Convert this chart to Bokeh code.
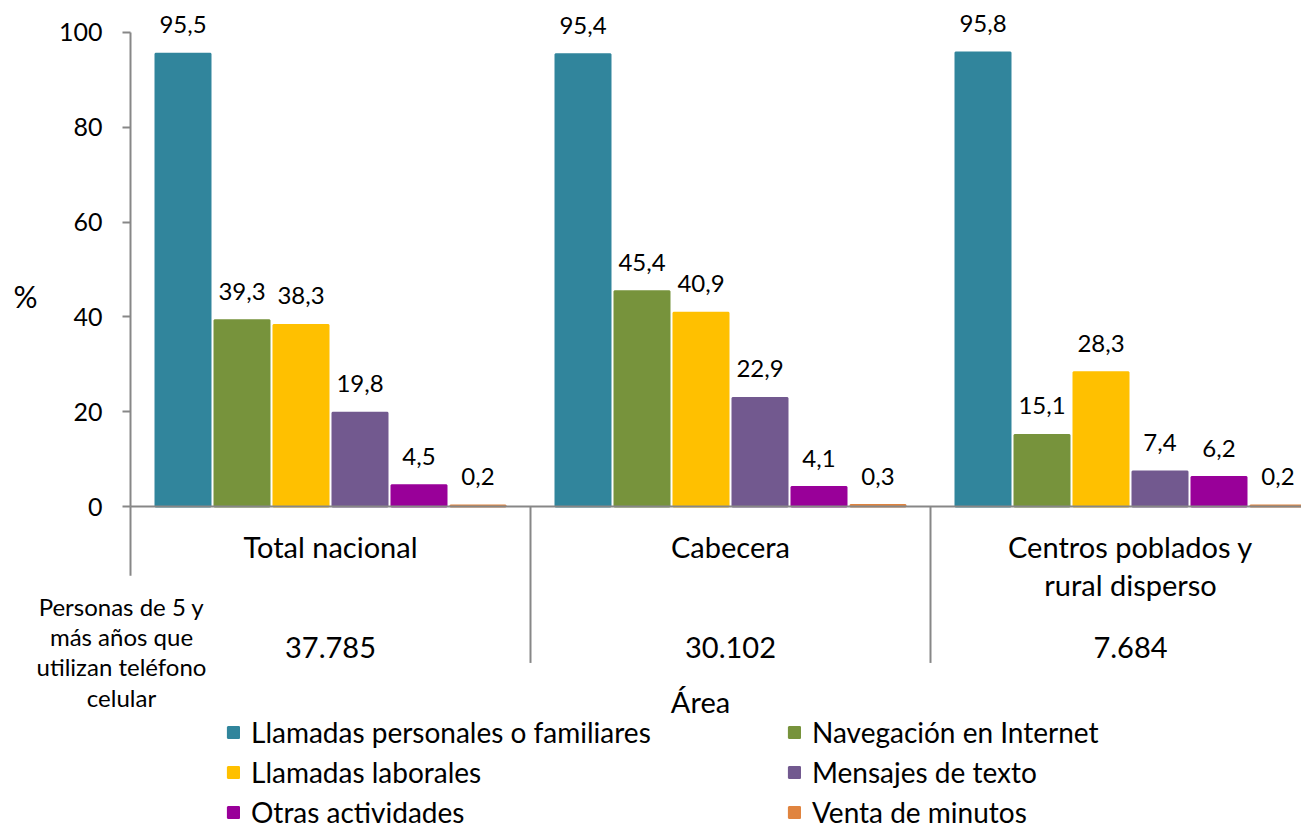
from bokeh.plotting import figure
from bokeh.models import (Range1d, LinearAxis, FixedTicker, ColumnDataSource,
                          Legend, LegendItem)
from bokeh.transform import dodge
from bokeh.core.properties import value
from bokeh.embed import file_html
from bokeh.resources import INLINE

# ---------------- data ----------------
areas = ["Total nacional", "Cabecera", "Centros poblados y\nrural disperso"]
personas = ["37.785", "30.102", "7.684"]
personas_label = "Personas de 5 y\nmás años que\nutilizan teléfono\ncelular"
x_title = "Área"
y_title = "%"
series = ["Llamadas personales o familiares", "Navegación en Internet",
          "Llamadas laborales", "Mensajes de texto",
          "Otras actividades", "Venta de minutos"]
llamadas_personales = [95.5, 95.4, 95.8]
navegacion_internet = [39.3, 45.4, 15.1]
llamadas_laborales = [38.3, 40.9, 28.3]
mensajes_texto = [19.8, 22.9, 7.4]
otras_actividades = [4.5, 4.1, 6.2]
venta_minutos = [0.2, 0.3, 0.2]
y_ticks = [0, 20, 40, 60, 80, 100]
colors = ["#31859C", "#77933C", "#FFC000", "#72598F", "#990099", "#E0843F"]

FONT = "Lato"
AX = "#878787"

values = [llamadas_personales, navegacion_internet, llamadas_laborales,
          mensajes_texto, otras_actividades, venta_minutos]
group_x = [i + 0.5 for i in range(len(areas))]

data = {"x": group_x, "personas": personas}
for k, vals in enumerate(values):
    data[f"v{k}"] = vals
    data[f"t{k}"] = [f"{v:.1f}".replace(".", ",") for v in vals]
src = ColumnDataSource(data)

p = figure(width=1301, height=830,
           x_range=Range1d(-0.325, 2.9275), y_range=Range1d(-68.35, 106.75),
           output_backend="svg", toolbar_location=None,
           x_axis_type=None, y_axis_type=None, min_border=0,
           outline_line_color=None, background_fill_color="white")
p.grid.visible = False

# axes
yaxis = LinearAxis(fixed_location=0, bounds=(0, 100), ticker=FixedTicker(ticks=y_ticks),
                   axis_line_color=AX, axis_line_width=2,
                   major_tick_line_color=AX, major_tick_line_width=2,
                   major_tick_out=8, major_tick_in=0, minor_tick_line_color=None,
                   major_label_text_font=FONT, major_label_text_font_size="25px",
                   major_label_text_color="black", major_label_standoff=20)
p.add_layout(yaxis, "left")

xaxis = LinearAxis(fixed_location=0, bounds=(0, 2.9275), ticker=FixedTicker(ticks=group_x),
                   major_label_overrides={gx: a for gx, a in zip(group_x, areas)},
                   axis_line_color=AX, axis_line_width=2,
                   major_tick_line_color=None, major_tick_out=0, major_tick_in=0,
                   minor_tick_line_color=None,
                   major_label_text_font=FONT, major_label_text_font_size="29px",
                   major_label_text_color="black", major_label_standoff=22,
                   major_label_text_line_height=1.1)
p.add_layout(xaxis, "below")

# separators below the axis
n = len(areas)
p.segment(x0=[0], y0=[0], x1=[0], y1=[-14.6], line_color=AX, line_width=2)
p.segment(x0=list(range(1, n)), y0=[0] * (n - 1), x1=list(range(1, n)), y1=[-33] * (n - 1),
          line_color=AX, line_width=2)

# bars + labels
renderers = []
for k in range(len(series)):
    off = (k - 2.5) * 0.1475
    r = p.vbar(x=dodge("x", off), top=f"v{k}", width=0.1375, source=src,
               fill_color=colors[k], line_color=colors[k], line_width=2)
    renderers.append(r)
    p.text(x=dodge("x", off), y=f"v{k}", text=f"t{k}", source=src,
           text_font=value(FONT), text_font_size="24px", text_align="center",
           text_baseline="alphabetic", y_offset=-29, text_color="black")

# persons row
p.text(x="x", y=0, text="personas", source=src, text_font=value(FONT),
       text_font_size="29px", text_align="center", text_baseline="alphabetic",
       y_offset=141, text_color="black")
p.text(x=[0], y=[0], text=[personas_label], text_font=value(FONT),
       text_font_size="24px", text_align="center", text_baseline="top",
       text_line_height=1.05, x_offset=-9, y_offset=85, text_color="black")

# axis titles
p.text(x=[1.425], y=[0], text=[x_title], text_font=value(FONT), text_font_size="29px",
       text_align="center", text_baseline="alphabetic", y_offset=195, text_color="black")
p.text(x=[-0.2625], y=[0], text=[y_title], text_font=value(FONT), text_font_size="30px",
       text_align="center", text_baseline="middle", y_offset=-211, text_color="black")

# legends (two columns)
for idxs, vx in (((0, 2, 4), 226), ((1, 3, 5), 787)):
    items = [LegendItem(label=series[k], renderers=[renderers[k]]) for k in idxs]
    lg = Legend(items=items, location=(vx, 1), orientation="vertical",
                glyph_width=14, glyph_height=14, label_height=20, spacing=6,
                label_standoff=11, padding=0, margin=0,
                border_line_color=None, background_fill_alpha=0,
                label_text_font=FONT, label_text_font_size="28px",
                label_text_color="black")
    p.add_layout(lg)

open("out.html", "w").write(file_html(p, INLINE))
